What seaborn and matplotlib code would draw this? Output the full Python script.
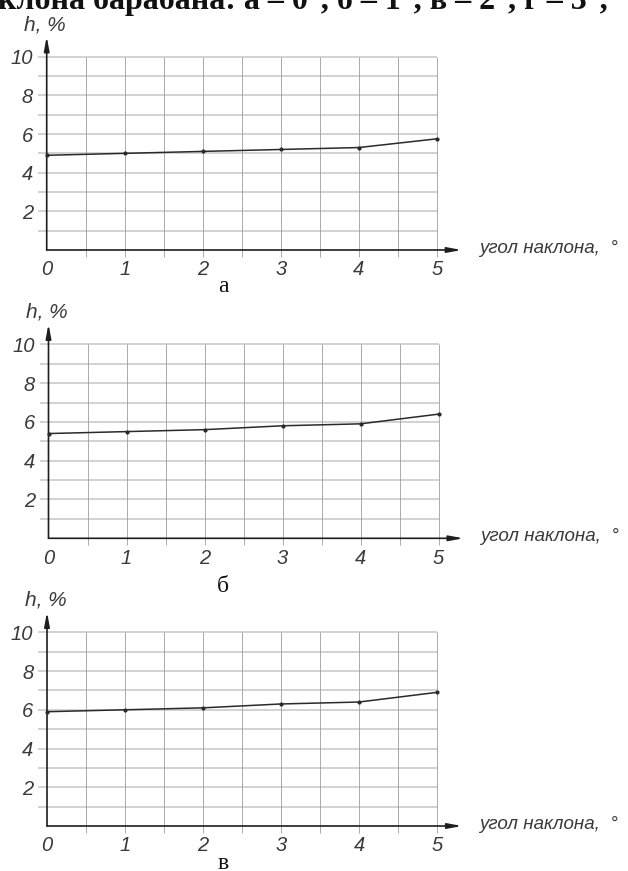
import numpy as np
import matplotlib.pyplot as plt
import seaborn as sns

# data (а, б, в)
angles = [0, 1, 2, 3, 4, 5]
h_a = [4.9, 5.0, 5.1, 5.2, 5.3, 5.75]
h_b = [5.4, 5.5, 5.6, 5.8, 5.9, 6.4]
h_v = [5.9, 6.0, 6.1, 6.3, 6.4, 6.9]
panel_names = ["а", "б", "в"]
ytick_labels = ["", "2", "", "4", "", "6", "", "8", "", "10"]

sns.set_theme(style="white")
plt.rcParams['font.family'] = ['Liberation Sans', 'DejaVu Sans']

W, H = 628, 871
fig = plt.figure(figsize=(W / 100, H / 100), dpi=100)

XMAX, YMAX = 5.32, 11.05
PX_X = 78.0
# left px, x-axis px, px per y unit, caption y px
layout = [(46.7, 250.0, 19.33, 287), (48.5, 538.3, 19.4, 586), (47.0, 826.0, 19.37, 863)]

tick_font = dict(style='italic', size=14.5, color='#3a3a3a')

for name, h, (left, bottom, ppu, cap_y) in zip(panel_names, [h_a, h_b, h_v], layout):
    ax = fig.add_axes([left / W, 1 - bottom / H, XMAX * PX_X / W, YMAX * ppu / H])
    ax.set_xlim(0, XMAX)
    ax.set_ylim(0, YMAX)
    for s in ax.spines.values():
        s.set_visible(False)

    # grid, only inside the 0..5 x 0..10 box
    ax.hlines(np.arange(1, 11), 0, 5, color='#cfcfcf', lw=1.3, zorder=1)
    ax.vlines(np.arange(0.5, 5.01, 0.5), 0, 10, color='#9c9c9c', lw=0.6, zorder=1)

    xt = np.arange(0, 5.01, 0.5)
    ax.set_xticks(xt)
    ax.set_xticklabels([str(int(v)) if v == int(v) else "" for v in xt], **tick_font)
    ax.set_yticks(np.arange(1, 11))
    ax.set_yticklabels(ytick_labels, **tick_font)
    ax.tick_params(axis='x', direction='out', length=5, width=0.6, color='#9c9c9c', pad=2.5, bottom=True)
    ax.tick_params(axis='y', direction='out', length=6.3, width=1.3, color='#cfcfcf', pad=3.5, left=True)
    ax.xaxis.get_major_ticks()[0].tick1line.set_visible(False)

    # axes with arrows
    arrow = dict(arrowstyle='-|>,head_length=0.7,head_width=0.13', color='#1e1e1e', lw=1.2,
                 shrinkA=0, shrinkB=0)
    ax.annotate('', xy=(1, 0), xytext=(0, 0), xycoords='axes fraction', arrowprops=arrow)
    ax.annotate('', xy=(0, 1), xytext=(0, 0), xycoords='axes fraction', arrowprops=arrow)

    sns.lineplot(x=angles, y=h, ax=ax, color='#2a2a2a', lw=1.1, marker='o', markersize=3,
                 markeredgewidth=0, zorder=3, clip_on=False)

    ax.text(-0.02, 10 + 32 / ppu, "h, %", ha='center', va='center', style='italic', size=15,
            color='#3a3a3a')
    ax.text(XMAX + 17 / PX_X, 0.1, "угол наклона,  °", ha='left', va='center', style='italic',
            size=13.5, color='#3a3a3a', clip_on=False)
    fig.text(223 / W, 1 - cap_y / H, name, ha='center', va='center', family='Liberation Serif',
             size=17, color='#111111')

fig.text(-0.003, 1 - 9 / H, "клона барабана: а – 0°, б – 1°, в – 2°, г – 3°,", ha='left',
         va='baseline', family='Liberation Serif', weight='bold', size=23, color='#111111')

fig.savefig("out.png", dpi=100)
